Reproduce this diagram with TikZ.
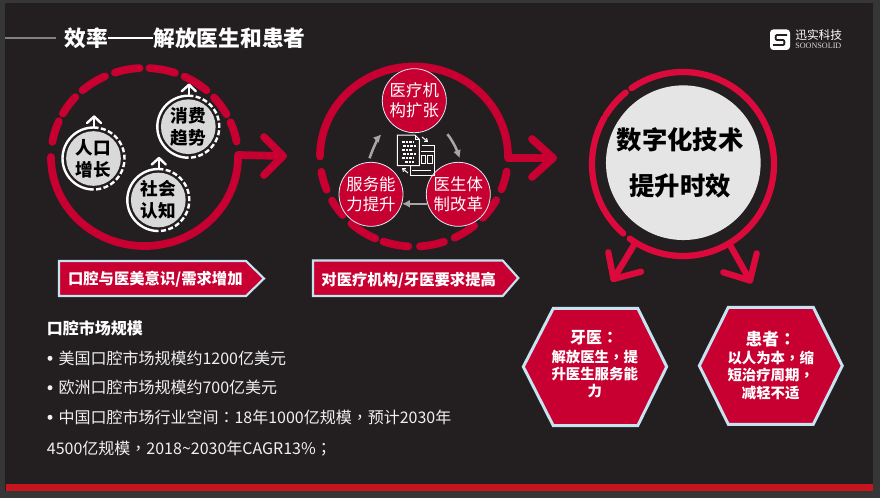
\documentclass[tikz,border=0pt]{standalone}
\usepackage{fontspec}
\setmainfont{Noto Sans CJK SC}
\newfontfamily\tcfont{Noto Sans CJK TC}
\newfontfamily\serfont{Liberation Serif}
\newcommand{\cmm}{{\tcfont ，}}
\newcommand{\cln}{{\tcfont ：}}
\newcommand{\scl}{{\tcfont ；}}
\definecolor{slidebg}{HTML}{231F20}
\definecolor{outerbg}{HTML}{363636}
\definecolor{crim}{HTML}{C80032}
\definecolor{bright}{HTML}{DC0A3C}
\definecolor{barred}{HTML}{C8141E}
\definecolor{edgeblue}{HTML}{C5E3F0}
\definecolor{chipgray}{HTML}{D9D9D9}
\definecolor{flow}{HTML}{A6A6A6}
\definecolor{bodytxt}{HTML}{F0F0F0}
\newcommand{\ringA}[2]{\draw[ring] ([shift={(#1:93.5 and 89)}]ca) arc[start angle=#1,end angle=#2,x radius=93.5,y radius=89];}
\newcommand{\ringB}[2]{\draw[ring] ([shift={(#1:94 and 90)}]cb) arc[start angle=#1,end angle=#2,x radius=94,y radius=90];}
\newcommand{\ringC}[2]{\draw[ringc] ([shift={(#1:91 and 92)}]cc) arc[start angle=#1,end angle=#2,x radius=91,y radius=92];}
\tikzset{
  ring/.style={crim,line width=5.8pt,line cap=round,line join=round},
  ringc/.style={bright,line width=4.7pt,line cap=round,line join=round},
  chip/.style={circle,fill=chipgray,minimum size=41pt,inner sep=0pt,text=black,align=center,font=\fontsize{13.2}{16.5}\selectfont\bfseries},
  chipring/.style={white,line width=1.8pt},
  chiparrow/.style={white,line width=1.8pt,line cap=round,line join=round},
  redball/.style={circle,fill=crim,draw=edgeblue!60,line width=.6pt,minimum size=48pt,inner sep=0pt,text=white,align=center,font=\fontsize{12.3}{15}\selectfont},
  banner/.style={fill=crim,draw=edgeblue,line width=1.6pt,line join=miter},
  bannertxt/.style={text=white,font=\fontsize{11.5}{14}\selectfont\bfseries,inner sep=0pt},
  hexa/.style={fill=crim,draw=edgeblue,line width=2.2pt,line join=miter},
  hextxt/.style={text=white,font=\fontsize{10.8}{13.1}\selectfont\bfseries,inner sep=0pt,align=center},
  flowarrow/.style={flow,line width=1.9pt,-{Latex[length=6pt,width=6pt]}},
  body/.style={text=bodytxt,anchor=west,inner sep=0pt,font=\fontsize{12}{15}\selectfont},
  icon/.style={white,line width=.75pt,line join=miter},
}
\usetikzlibrary{arrows.meta}
\begin{document}
\begin{tikzpicture}[x=0.75pt,y=-0.75pt]
\useasboundingbox (0,0) rectangle (880,501);
\fill[white] (0,0) rectangle (880,501);
\fill[outerbg] (0,0) rectangle (880,497.5);
\fill[slidebg] (5,3) rectangle (873,491);
\fill[barred] (6,484) rectangle (873,490.7);
% title
\coordinate (tl1) at (5,38); \coordinate (tl2) at (56,38);
\draw[gray,line width=.8pt] (tl1) -- (tl2);
\node[anchor=west,inner sep=0pt,text=white,font=\fontsize{16.3}{20}\selectfont\bfseries] (title) at (64,38) {效率\rule[0.34em]{2.1em}{1.2pt}解放医生和患者};
% logo
\node[fill=white,rounded corners=2.5pt,minimum width=15pt,minimum height=15.4pt,inner sep=0pt] (logo) at (780,39.7) {};
\draw[slidebg,line width=1.4pt] (787,35) -- (777,35) to[out=180,in=180] (777,40) -- (783,40) to[out=0,in=0] (783,45) -- (773,45);
\node[anchor=west,inner sep=0pt,text=white,font=\fontsize{8.8}{10}\selectfont] (logotxt) at (795,35) {迅实科技};
\node[anchor=west,inner sep=0pt,text=white!85!black,font=\fontsize{6.1}{8}\serfont] (logoen) at (795,46) {SOONSOLID};

% --- circle 1
\coordinate (ca) at (144.5,157);
\ringA{180}{0}
\foreach \p/\q in {189.8/203.7,209.2/222.3,228.5/245,251.5/267,273/289,295.4/311.5,318/331.3,337/350}{\ringA{\p}{\q}}
\coordinate (a0) at (238,155); \coordinate (a1) at (283,156); \coordinate (a2) at (264,137); \coordinate (a3) at (264,175);
\draw[ring] (a0) -- (a1);
\draw[ring] (a2) -- (a1) -- (a3);
\foreach \nm/\x/\y/\l/\m in {chipa/93.5/158.5/人口/增长,chipb/188.3/126.7/消费/趋势,chipc/158.3/200/社会/认知}{
  \node[chip] (\nm) at (\x,\y) {\l\\\m};
  \draw[chipring] (\x,\y) ++(270:31) arc[start angle=270,end angle=90,radius=31];
  \draw[chipring,dash pattern=on 3.8pt off 1.8pt] (\x,\y) ++(270:31) arc[start angle=270,end angle=450,radius=31];
  \coordinate (\nm top) at (\x+.7,\y-42);
  \coordinate (\nm base) at (\x+.7,\y-31);
  \coordinate (\nm l) at (\x-6.5,\y-35.5);
  \coordinate (\nm r) at (\x+7.5,\y-35.5);
  \draw[chiparrow] (\nm base) -- (\nm top);
  \draw[chiparrow] (\nm l) -- (\nm top) -- (\nm r);
}
% banner 1
\draw[banner] (59,261) -- (246,261) -- (264,278.5) -- (246,296) -- (59,296) -- cycle;
\node[bannertxt] (ba) at (155.3,279) {口腔与医美意识/需求增加};

% --- circle 2
\coordinate (cb) at (414,156.5);
\ringB{180}{360}
\foreach \p/\q in {170.2/158.3,150.7/139.4,131.8/114.3,109/93.5,86.4/71.4,64.4/50.2,43/29,21.4/9.6}{\ringB{\p}{\q}}
\coordinate (b0) at (508,158); \coordinate (b1) at (553,158); \coordinate (b2) at (532,139); \coordinate (b3) at (532,177);
\draw[ring] (b0) -- (b1);
\draw[ring] (b2) -- (b1) -- (b3);
\node[redball] (na) at (414.3,100.7) {医疗机\\构扩张};
\node[redball] (nb) at (458.3,194.3) {医生体\\制改革};
\node[redball] (nc) at (371,194.3) {服务能\\力提升};
\draw[flowarrow,shorten <=3pt,shorten >=11pt] (nc.95) to[bend left=12] (na.225);
\draw[flowarrow,shorten <=11pt,shorten >=3pt] (na.-45) to[bend left=12] (nb.85);
\draw[flowarrow] (nb.197) -- (nc.-17);
% document icon
\draw[icon] (421.7,145) -- (434,145) -- (434,175) -- (410,175) -- (410,166);
\draw[icon] (421,151) -- (434,151);
\draw[icon] (421,155) rectangle (425,163); \draw[icon] (427,155) rectangle (432,163);
\draw[icon] (412,170) -- (431,170);
\fill[slidebg,draw=white,line width=.75pt] (397.3,135) -- (415,135) -- (419.3,139.5) -- (419.3,165.7) -- (397.3,165.7) -- cycle;
\draw[icon] (415,135) -- (415,139.5) -- (419.3,139.5);
\foreach \yy/\a/\b in {142/402/414,146/403/416,150/402/412,154/403/416,158/402/413,162/405/414}{
  \draw[white,line width=.9pt,dash pattern=on 2pt off .7pt] (\a,\yy) -- (\b,\yy);
}
\draw[white,line width=.75pt,-{Straight Barb[length=2pt,width=3pt]}] (422,137) -- (428,142);
\draw[white,line width=.75pt,-{Straight Barb[length=2pt,width=3pt]}] (408,173) -- (402,168);
% banner 2
\draw[banner] (313,260.5) -- (502.7,260.5) -- (518.3,278) -- (502.7,296) -- (313,296) -- cycle;
\node[bannertxt] (bb) at (408.7,280) {对医疗机构/牙医要求提高};

% --- circle 3
\coordinate (cc) at (683,164);
\ringC{235.5}{485.8}
\ringC{131}{148.8}
\ringC{150}{210.4}
\ringC{212}{231}
\node[circle,fill=white!90!black,minimum size=116pt,inner sep=0pt] (big) at (683.3,162.7) {};
\node[inner sep=0pt,text=black,font=\fontsize{19}{24}\selectfont\bfseries] (biga) at (680,140) {数字化技术};
\node[inner sep=0pt,text=black,font=\fontsize{19}{24}\selectfont\bfseries] (bigb) at (680,185.5) {提升时效};
\coordinate (l0) at (635,243.3); \coordinate (l1) at (613.5,279); \coordinate (l2) at (608.3,252.3); \coordinate (l3) at (641,271.7);
\draw[ringc] (l0) -- (l1); \draw[ringc] (l2) -- (l1) -- (l3);
\coordinate (r0) at (730,245); \coordinate (r1) at (750,280.5); \coordinate (r2) at (756.7,253.3); \coordinate (r3) at (723.3,272.3);
\draw[ringc] (r0) -- (r1); \draw[ringc] (r2) -- (r1) -- (r3);

% hexagons
\draw[hexa] (523.3,366.7) -- (553.3,308.3) -- (637.7,308.3) -- (666.7,366.7) -- (637.7,425.7) -- (553.3,425.7) -- cycle;
\draw[hexa] (699.3,365.7) -- (728.3,307.3) -- (813.3,307.3) -- (842.3,365.7) -- (813.3,424.3) -- (728.3,424.3) -- cycle;
\node[hextxt,font=\fontsize{12}{14}\selectfont\bfseries] (ha) at (594,338) {牙医\cln};
\node[hextxt] (hb) at (594.7,374) {解放医生\cmm 提\\升医生服务能\\力};
\node[hextxt,font=\fontsize{12.5}{14}\selectfont\bfseries] (hc) at (770.7,339.5) {患者\cln};
\node[hextxt] (hd) at (770.7,375) {以人为本\cmm 缩\\短治疗周期\cmm\\减轻不适};

% market text
\node[body,font=\fontsize{12}{15}\selectfont\bfseries,text=white] (m0) at (46.7,328.3) {口腔市场规模};
\foreach \nm/\yy in {m1/358.3,m2/387.7,m3/417.3}{\fill[bodytxt] (50,\yy) circle (2.5);}
\node[body] (m1) at (58.3,358.3) {美国口腔市场规模约1200亿美元};
\node[body] (m2) at (58.3,387.7) {欧洲口腔市场规模约700亿美元};
\node[body] (m3) at (58.3,417.3) {中国口腔市场行业空间\cln 18年1000亿规模\cmm 预计2030年};
\node[body] (m4) at (46.7,449) {4500亿规模\cmm 2018\textasciitilde 2030年CAGR13\%\scl};
\end{tikzpicture}
\end{document}
